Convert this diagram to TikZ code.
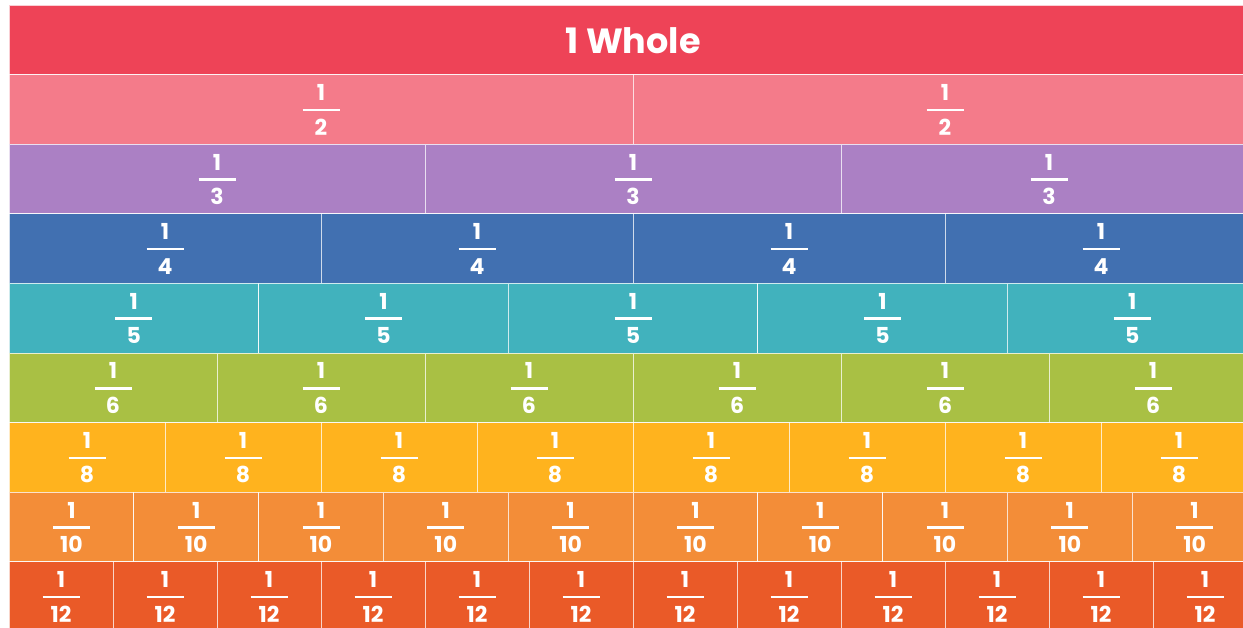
\documentclass[tikz,border=0pt]{standalone}
\usepackage{fontspec}
\setmainfont{Poppins}
\definecolor{rowA}{HTML}{EE4357}
\definecolor{rowB}{HTML}{F47B8A}
\definecolor{rowC}{HTML}{AB80C4}
\definecolor{rowD}{HTML}{4170B1}
\definecolor{rowE}{HTML}{41B2BD}
\definecolor{rowF}{HTML}{A9C044}
\definecolor{rowG}{HTML}{FFB31E}
\definecolor{rowH}{HTML}{F38D38}
\definecolor{rowI}{HTML}{EA5A28}
\tikzset{
  cell/.style={rectangle, draw=white, draw opacity=0.75, line width=0.9pt, inner sep=0pt, outer sep=0pt},
  num/.style={text=white, font=\fontsize{22}{22}\selectfont\bfseries, inner sep=0pt},
  whole/.style={text=white, font=\fontsize{35}{35}\selectfont\bfseries, inner sep=0pt},
  bar/.style={white, line width=2.5pt}
}
\begin{document}
\begin{tikzpicture}[x=1pt,y=-1pt]
\useasboundingbox (0,0) rectangle (1243,627);
\fill[white] (0,0) rectangle (1243,627);
\clip (0,0) rectangle (1243,627);
\foreach \d/\col [count=\r from 0] in {1/rowA,2/rowB,3/rowC,4/rowD,5/rowE,6/rowF,8/rowG,10/rowH,12/rowI} {
  \pgfmathsetmacro\top{5+69.6*\r}
  \pgfmathsetmacro\w{1248/\d}
  \foreach \k in {1,...,\d} {
    \node[cell, fill=\col, minimum width=\w pt, minimum height=69.6pt] (c\r-\k) at ({9+\w*(\k-0.5)}, {\top+34.8}) {};
    \ifnum\d=1
      \node[whole] (t\r-\k) at ([yshift=-1pt]c\r-\k.center) {1 Whole};
    \else
      \node[num] (n\r-\k) at ([yshift=17pt]c\r-\k.center) {1};
      \node[num] (d\r-\k) at ([yshift=-17.5pt]c\r-\k.center) {\d};
      \draw[bar] ([xshift=-18.5pt,yshift=-0.5pt]c\r-\k.center) -- ([xshift=18.5pt,yshift=-0.5pt]c\r-\k.center);
    \fi
  }
}
\end{tikzpicture}
\end{document}
